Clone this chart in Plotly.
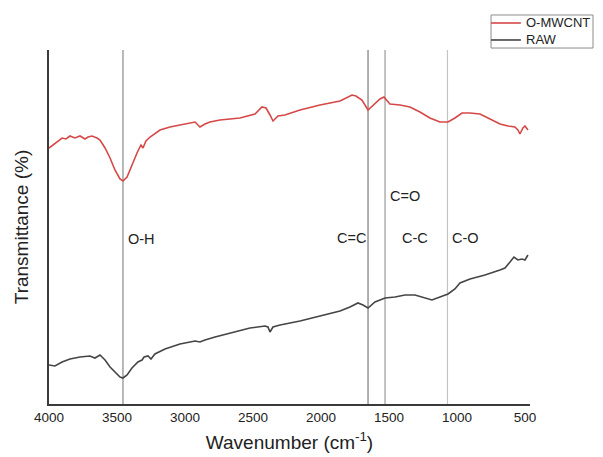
import plotly.graph_objects as go

# FTIR spectra (arbitrary transmittance units)
wn_omwcnt = [4000, 3956, 3904, 3875, 3846, 3809, 3772, 3735, 3713, 3684, 3647, 3625,
             3588, 3551, 3515, 3478, 3456, 3426, 3390, 3353, 3324, 3309, 3287, 3257,
             3184, 3110, 3037, 2963, 2926, 2890, 2853, 2816, 2743, 2596, 2485, 2434,
             2404, 2375, 2353, 2316, 2265, 2154, 2007, 1860, 1801, 1772, 1743, 1699,
             1654, 1610, 1566, 1537, 1493, 1419, 1346, 1272, 1199, 1125, 1066, 1015,
             963, 904, 831, 757, 684, 625, 574, 552, 537, 515, 500, 478]
t_omwcnt = [256, 261, 266, 265, 268, 266, 268, 265, 267, 268, 266, 264,
            256, 246, 234, 225, 223, 227, 239, 251, 259, 256, 263, 267,
            274, 277, 279, 281, 282, 277, 280, 282, 284, 286, 290, 297,
            296, 289, 283, 288, 289, 294, 299, 303, 307, 309, 308, 304,
            294, 300, 305, 307, 300, 299, 297, 292, 286, 282, 282, 286,
            291, 291, 290, 285, 280, 278, 277, 274, 270, 276, 278, 274]

wn_raw = [4000, 3956, 3904, 3846, 3772, 3699, 3662, 3625, 3588, 3551, 3515, 3478,
          3456, 3426, 3390, 3346, 3316, 3301, 3272, 3250, 3221, 3147, 3037, 2926,
          2890, 2853, 2779, 2669, 2522, 2412, 2390, 2375, 2353, 2301, 2154, 2007,
          1860, 1787, 1728, 1691, 1654, 1603, 1529, 1456, 1382, 1309, 1235, 1184,
          1125, 1066, 1015, 978, 904, 794, 684, 647, 610, 581, 552, 522, 500, 478]
t_raw = [39, 38, 42, 45, 47, 48, 46, 49, 44, 37, 32, 27,
         26, 29, 36, 42, 44, 47, 48, 45, 50, 55, 60, 63,
         62, 64, 67, 71, 76, 78, 77, 72, 77, 79, 83, 88,
         93, 97, 101, 99, 96, 102, 106, 107, 109, 109, 106, 104,
         107, 110, 115, 121, 125, 129, 134, 136, 142, 147, 144, 145, 144, 149]

x_ticks = [4000, 3500, 3000, 2500, 2000, 1500, 1000, 500]

bands = [3456, 1654, 1529, 1070]
band_colors = ["#8a8a8a", "#7a7a7a", "#9a9a9a", "#c4c4c4"]
band_labels = ["O-H", "C=C", "C=O", "C-C", "C-O"]
label_x = [3323, 1779, 1379, 1309, 934]
label_y = [165, 166, 208, 166, 166]

series_names = ["O-MWCNT", "RAW"]
series_colors = ["#d64848", "#454545"]

fig = go.Figure()
fig.add_trace(go.Scatter(x=wn_omwcnt, y=t_omwcnt, mode="lines", name=series_names[0],
                         line=dict(color=series_colors[0], width=1.6), showlegend=False))
fig.add_trace(go.Scatter(x=wn_raw, y=t_raw, mode="lines", name=series_names[1],
                         line=dict(color=series_colors[1], width=1.6), showlegend=False))

for b, c in zip(bands, band_colors):
    fig.add_shape(type="line", xref="x", yref="paper", x0=b, x1=b, y0=0, y1=1,
                  line=dict(color=c, width=1.2), layer="below")

for txt, lx, ly in zip(band_labels, label_x, label_y):
    fig.add_annotation(x=lx, y=ly, text=txt, showarrow=False,
                       font=dict(size=14.5, color="#222"))

# compact boxed legend, top right
fig.add_shape(type="rect", xref="paper", yref="paper", x0=0.919, x1=1.131,
              y0=1.0056, y1=1.0989, line=dict(color="#8c8c8c", width=1), fillcolor="white")
for i, (nm, col) in enumerate(zip(series_names, series_colors)):
    yy = 1.0763 - i * 0.048
    fig.add_shape(type="line", xref="paper", yref="paper", x0=0.919, x1=0.981,
                  y0=yy, y1=yy, line=dict(color=col, width=1.6))
    fig.add_annotation(xref="paper", yref="paper", x=0.987, y=yy, text=nm,
                       xanchor="left", yanchor="middle", showarrow=False,
                       font=dict(size=13, color="#222"))

fig.update_xaxes(range=[4000, 463], tickvals=x_ticks, ticks="", showgrid=False,
                 zeroline=False, showline=True, linecolor="#3a3a3a", linewidth=1.5,
                 automargin=False,
                 title=dict(text="Wavenumber (cm<sup>-1</sup>)", font=dict(size=19, color="#222"),
                            standoff=12),
                 tickfont=dict(size=13.5, color="#222"))
fig.update_yaxes(range=[0, 354], showticklabels=False, ticks="", showgrid=False,
                 zeroline=False, showline=True, linecolor="#3a3a3a", linewidth=1.5,
                 automargin=False,
                 title=dict(text="Transmittance (%)", font=dict(size=19, color="#222"),
                            standoff=14))
fig.update_layout(
    width=595, height=449, template="plotly_white",
    margin=dict(l=41, r=73, t=42, b=53, autoexpand=False),
    font=dict(family="Arial, Liberation Sans, sans-serif"),
    showlegend=False,
    plot_bgcolor="white", paper_bgcolor="white",
)
fig.write_html("out.html")
